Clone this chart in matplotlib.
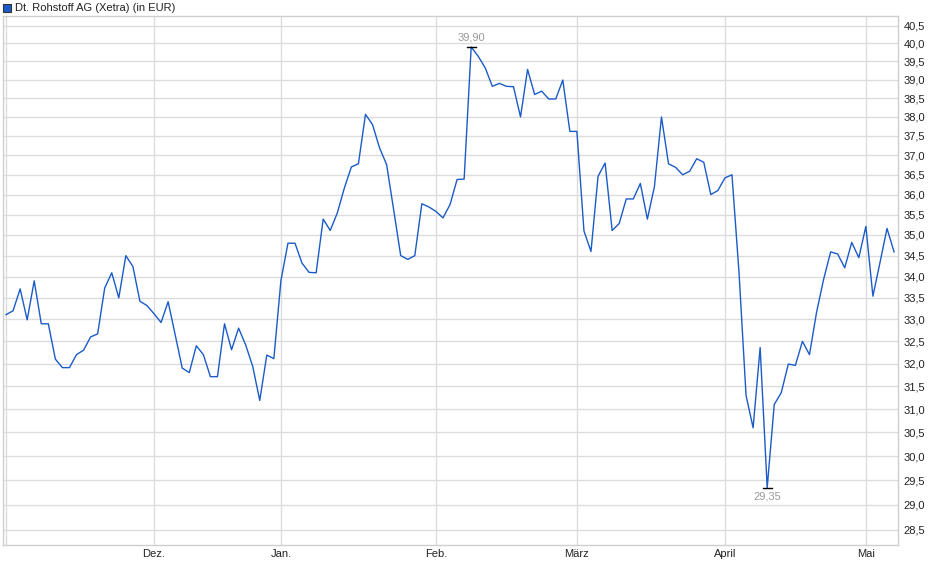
import numpy as np
import matplotlib.pyplot as plt
from matplotlib.patches import Rectangle
from matplotlib.ticker import FixedLocator, NullLocator

# Dt. Rohstoff AG, Xetra closing prices, trading days Nov 2024 - May 2025
prices = [
    33.11, 33.20, 33.71, 32.99, 33.90, 32.90, 32.90, 32.10, 31.91, 31.91,
    32.20, 32.30, 32.60, 32.67, 33.73, 34.09, 33.50, 34.50, 34.24, 33.42,
    33.32, 33.13, 32.93, 33.41, 32.65, 31.90, 31.80, 32.40, 32.20, 31.71,
    31.71, 32.90, 32.31, 32.80, 32.42, 31.94, 31.19, 32.19, 32.11, 33.90,
    34.80, 34.80, 34.32, 34.10, 34.09, 35.39, 35.11, 35.54, 36.16, 36.70,
    36.78, 38.07, 37.80, 37.19, 36.76, 35.62, 34.50, 34.41, 34.50, 35.77,
    35.69, 35.58, 35.42, 35.75, 36.38, 36.39, 39.90, 39.64, 39.32, 38.82,
    38.90, 38.82, 38.81, 38.00, 39.28, 38.60, 38.69, 38.48, 38.48, 38.99,
    37.62, 37.62, 35.10, 34.60, 36.46, 36.80, 35.11, 35.28, 35.89, 35.89,
    36.28, 35.39, 36.20, 38.00, 36.78, 36.69, 36.50, 36.59, 36.91, 36.82,
    36.00, 36.10, 36.42, 36.50, 34.10, 31.30, 30.60, 32.36, 29.35, 31.10,
    31.36, 31.99, 31.96, 32.50, 32.20, 33.16, 33.93, 34.59, 34.54, 34.21,
    34.82, 34.45, 35.21, 33.54, 34.33, 35.16, 34.59,
]

# first trading day of each month (index into prices)
month_pos = [0, 21, 39, 61, 81, 102, 122]
month_labels = ["", "Dez.", "Jan.", "Feb.", "März", "April", "Mai"]

y_ticks = np.arange(28.5, 40.51, 0.5)

plt.rcParams['font.family'] = ['Liberation Sans', 'DejaVu Sans']

fig = plt.figure(figsize=(9.4, 5.79), dpi=100)
W, H = 940, 579
ax = fig.add_axes([3 / W, 1 - 545 / H, 895 / W, 529 / H])

x = np.arange(len(prices))
ax.plot(x, prices, color='#1a5bc8', lw=1.0, zorder=3)

ax.set_yscale('log')
ax.set_ylim(28.2, 40.77)
ax.set_xlim(-0.43, 126.56)

ax.yaxis.set_major_locator(FixedLocator(y_ticks))
ax.yaxis.set_minor_locator(NullLocator())
ax.set_yticklabels([f"{v:.1f}".replace('.', ',') for v in y_ticks])
ax.yaxis.tick_right()

ax.xaxis.set_major_locator(FixedLocator(month_pos))
ax.xaxis.set_minor_locator(NullLocator())
ax.set_xticklabels(month_labels)

ax.tick_params(axis='both', length=0, labelsize=8, colors='#222222')
ax.tick_params(axis='y', pad=4)
ax.tick_params(axis='x', pad=3)

ax.grid(True, color='#dcdcdc', lw=1.0, zorder=0)
for s in ax.spines.values():
    s.set_color('#cfcfcf')
    s.set_linewidth(1.0)

# high / low markers
i_max = int(np.argmax(prices))
i_min = int(np.argmin(prices))
for i, off, va in [(i_max, 3, 'bottom'), (i_min, -3, 'top')]:
    ax.plot([i - 0.65, i + 0.65], [prices[i], prices[i]], color='black', lw=1.0, zorder=4)
    ax.annotate(f"{prices[i]:.2f}".replace('.', ','), (i, prices[i]),
                xytext=(0, off), textcoords='offset points',
                ha='center', va=va, fontsize=8, color='#9a9a9a')

# title with legend square
fig.add_artist(Rectangle((3 / W, 1 - 12 / H), 8 / W, 8 / H, transform=fig.transFigure,
                         facecolor='#1a5bc8', edgecolor='#333333', lw=0.8))
fig.text(15 / W, 1 - 8 / H, "Dt. Rohstoff AG (Xetra) (in EUR)", fontsize=8,
         color='#222222', va='center', ha='left')

fig.savefig("out.png", dpi=100)
